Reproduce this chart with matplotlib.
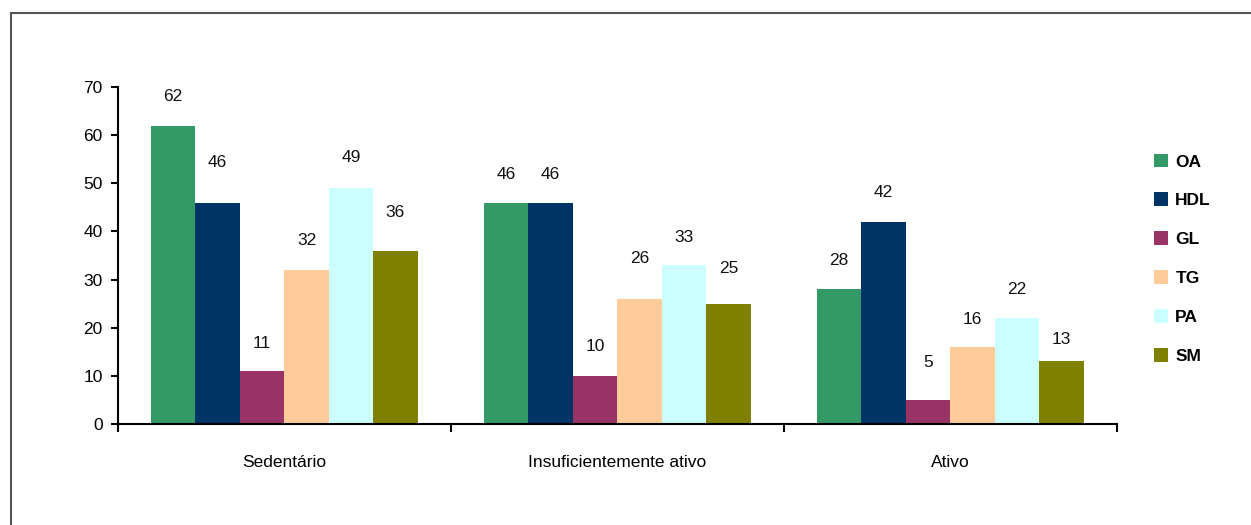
import numpy as np
import matplotlib
matplotlib.use('Agg')
import matplotlib.pyplot as plt
from matplotlib.lines import Line2D
from matplotlib.ticker import FixedLocator

plt.rcParams['font.family'] = ['Liberation Sans', 'DejaVu Sans']

categories = ['Sedentário', 'Insuficientemente ativo', 'Ativo']
series = ['OA', 'HDL', 'GL', 'TG', 'PA', 'SM']
colors = ['#339966', '#003366', '#993366', '#FFCC99', '#CCFFFF', '#808000']

OA = [62, 46, 28]
HDL = [46, 46, 42]
GL = [11, 10, 5]
TG = [32, 26, 16]
PA = [49, 33, 22]
SM = [36, 25, 13]
values = [OA, HDL, GL, TG, PA, SM]

# distancia do rotulo acima da barra (como no original, nem sempre igual)
label_gap = [
    [6.1, 5.9, 5.9],
    [8.3, 5.9, 6.0],
    [5.8, 6.0, 7.7],
    [6.2, 8.3, 5.8],
    [6.3, 5.8, 6.0],
    [8.0, 7.2, 4.6],
]

fig = plt.figure(figsize=(12.51, 5.25), dpi=100)
ax = fig.add_axes([118 / 1251, 1 - 424 / 525, 999 / 1251, 337 / 525])

width = 0.1335
start = 0.099
x = np.arange(len(categories))
for i, (name, vals, col) in enumerate(zip(series, values, colors)):
    pos = x + start + width * (i + 0.5)
    ax.bar(pos, vals, width=width, color=col, label=name, linewidth=0)
    for p, v, g in zip(pos, vals, label_gap[i]):
        ax.text(p, v + g, str(v), ha='center', va='center', fontsize=12.5, color='#111111')

ax.set_xlim(0, len(categories))
ax.set_ylim(0, 70)
ax.set_yticks(range(0, 71, 10))
ax.xaxis.set_major_locator(FixedLocator(range(len(categories) + 1)))
ax.xaxis.set_major_formatter(plt.NullFormatter())
ax.xaxis.set_minor_locator(FixedLocator(x + 0.5))
ax.set_xticklabels(categories, minor=True)
ax.tick_params(axis='x', which='major', direction='out', length=6, width=1.5)
ax.tick_params(axis='x', which='minor', length=0, pad=22, labelsize=12.5)
ax.tick_params(axis='y', direction='out', length=5, width=1.5, pad=6, labelsize=12.5)

for s in ['top', 'right']:
    ax.spines[s].set_visible(False)
for s in ['left', 'bottom']:
    ax.spines[s].set_linewidth(1.5)

leg = fig.legend(loc='upper left', bbox_to_anchor=(1138 / 1251, 1 - 138 / 525),
                 frameon=False, handlelength=0.85, handleheight=0.85,
                 handletextpad=0.4, labelspacing=1.32,
                 prop={'weight': 'bold', 'size': 12.5})

# moldura
fig.add_artist(Line2D([11 / 1251, 1], [1 - 13 / 525, 1 - 13 / 525], color='#555555', lw=1.5))
fig.add_artist(Line2D([11 / 1251, 11 / 1251], [0, 1 - 13 / 525], color='#555555', lw=1.5))

fig.savefig('out.png', dpi=100)
